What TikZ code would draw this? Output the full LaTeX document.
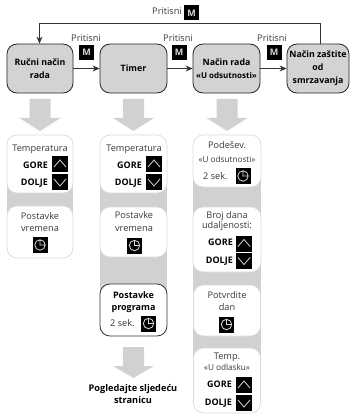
\documentclass[tikz,border=0pt]{standalone}
\usepackage{fontspec}
\setmainfont{Open Sans}
\usetikzlibrary{arrows.meta,shapes.arrows}
\definecolor{band}{HTML}{D0D1D1}
\definecolor{txt}{HTML}{3A3A3A}
\tikzset{
  x=1pt,y=-1pt,
  mode/.style={draw=black!85,line width=0.8pt,fill=band!95!white,rounded corners=10pt,minimum height=49pt,align=center,inner sep=0pt,text=black,font=\fontsize{8.8}{13}\selectfont\bfseries},
  panel/.style={draw=black!14,line width=0.7pt,fill=white,rounded corners=10pt,inner sep=0pt},
  strong/.style={draw=black!80,line width=0.8pt,fill=white,rounded corners=10pt,inner sep=0pt},
  lbl/.style={inner sep=0pt,text=txt,font=\fontsize{9.2}{11}\selectfont},
  slbl/.style={inner sep=0pt,text=txt,font=\fontsize{8.2}{10}\selectfont},
  blbl/.style={inner sep=0pt,text=black,align=center,font=\fontsize{9}{12}\selectfont\bfseries},
  keyb/.style={fill=black,minimum size=16pt,inner sep=0pt},
  mkey/.style={fill=black,minimum size=15pt,inner sep=0pt,text=white!85!black,font=\fontsize{9}{9}\selectfont\bfseries},
  flow/.style={draw=black!80,line width=0.8pt,-{Stealth[length=7pt,width=6pt]}},
  bigarrow/.style={fill=band,draw=none},
  pics/upkey/.style={code={\fill (-8,-8) rectangle (8,8);\draw[white!85!black,line width=0.8pt] (-6,3) -- (0,-4) -- (6,3);}},
  pics/downkey/.style={code={\fill (-8,-8) rectangle (8,8);\draw[white!85!black,line width=0.8pt] (-6,-3) -- (0,4) -- (6,-3);}},
  pics/clockkey/.style={code={\fill (-7.5,-8) rectangle (7.5,8);\draw[white!85!black,line width=0.8pt] (0,0) circle[radius=5.2] (0,-5.2) -- (0,0) -- (5.2,0);}},
}
\newcommand{\bigdown}[3]{\fill[bigarrow] (#1-10.5,#2) -- (#1+10.5,#2) -- (#1+10.5,#2+19) -- (#1+20.5,#2+19) -- (#1,#3) -- (#1-20.5,#2+19) -- (#1-10.5,#2+19) -- cycle;}
\begin{document}
\begin{tikzpicture}
\useasboundingbox (0,0) rectangle (353,414);
% grey bands
\fill[band] (7,180) rectangle (73,222);
\fill[band] (100,180) rectangle (167,310);
\fill[band] (193,175) rectangle (261,365);
% big arrows
\bigdown{40}{99}{131}
\bigdown{133.5}{99}{131}
\bigdown{227}{99}{131}
\bigdown{133.5}{347}{378}
% mode boxes
\node[mode,minimum width=66pt] (manual) at (40,68.5) {Ručni način\\rada};
\node[mode,minimum width=67pt] (timer) at (133.5,68.5) {Timer};
\node[mode,minimum width=67pt] (away) at (226.5,68.5) {Način rada\\{\fontsize{8}{13}\selectfont «U odsutnosti»}};
\node[mode,minimum width=62pt] (frost) at (318,68.5) {Način zaštite\\od\\smrzavanja};
% connectors
\coordinate (loopR) at (320,23);
\coordinate (loopL) at (39.5,23);
\draw[flow] (frost.north -| loopR) -- (loopR) -- (loopL) -- (manual.north -| loopL);
\draw[flow] (manual) -- (timer);
\draw[flow] (timer) -- (away);
\draw[flow] (away) -- (frost);
% press labels
\node[lbl] (p0) at (167,11.5) {Pritisni};
\node[mkey] (m0) at (191.5,13) {M};
\node[lbl] (p1) at (86,38) {Pritisni};
\node[mkey] (m1) at (86.5,52.5) {M};
\node[lbl] (p2) at (178,38) {Pritisni};
\node[mkey] (m2) at (179,52.5) {M};
\node[lbl] (p3) at (272,38) {Pritisni};
\node[mkey] (m3) at (274,52.5) {M};
% column 1
\node[panel,minimum width=66pt,minimum height=58pt] (a1) at (40,164) {};
\node[lbl] (a1t) at (40,149) {Temperatura};
\node[blbl,anchor=east] (a1g) at (48,165) {GORE};
\node[blbl,anchor=east] (a1d) at (48,183) {DOLJE};
\pic at (60,164) {upkey};
\pic at (60,182) {downkey};
\node[panel,minimum width=66pt,minimum height=52pt] (a2) at (40,232) {};
\node[lbl] (a2t) at (40,216) {Postavke};
\node[lbl] (a2u) at (40,229) {vremena};
\pic at (40,245) {clockkey};
% column 2
\node[panel,minimum width=67pt,minimum height=58pt] (b1) at (133.5,164) {};
\node[lbl] (b1t) at (134,149) {Temperatura};
\node[blbl,anchor=east] (b1g) at (142,165) {GORE};
\node[blbl,anchor=east] (b1d) at (142,183) {DOLJE};
\pic at (154,164) {upkey};
\pic at (154,182) {downkey};
\node[panel,minimum width=67pt,minimum height=50pt] (b2) at (133.5,232) {};
\node[lbl] (b2t) at (134,215) {Postavke};
\node[lbl] (b2u) at (134,229) {vremena};
\pic at (134.5,245.5) {clockkey};
\node[strong,minimum width=67pt,minimum height=52pt] (b3) at (133.5,310) {};
\node[blbl] (b3t) at (133.5,302) {Postavke\\programa};
\node[lbl,anchor=west] (b3s) at (110,323) {2 sek.};
\pic at (148.5,323.5) {clockkey};
\node[blbl,font=\fontsize{9.2}{12}\selectfont\bfseries] (next) at (133,394.5) {Pogledajte sljedeću\\stranicu};
% column 3
\node[panel,minimum width=68pt,minimum height=52pt] (c1) at (227,161) {};
\node[lbl] (c1t) at (227,145) {Podešev.};
\node[slbl] (c1u) at (227,159) {«U odsutnosti»};
\node[lbl,anchor=west] (c1s) at (203,176) {2 sek.};
\pic at (243,176) {clockkey};
\node[panel,minimum width=68pt,minimum height=65pt] (c2) at (227,239.5) {};
\node[lbl] (c2t) at (227,216) {Broj dana};
\node[lbl] (c2u) at (227,226) {udaljenosti:};
\node[blbl,anchor=east] (c2g) at (233,242) {GORE};
\node[blbl,anchor=east] (c2d) at (233,261) {DOLJE};
\pic at (244,243.5) {upkey};
\pic at (244,260.5) {downkey};
\node[panel,minimum width=67pt,minimum height=51pt] (c3) at (227,310.5) {};
\node[lbl] (c3t) at (227,295) {Potvrdite};
\node[lbl] (c3u) at (227,307) {dan};
\pic at (226.5,324.5) {clockkey};
\node[panel,minimum width=67pt,minimum height=65pt] (c4) at (227,380.5) {};
\node[lbl] (c4t) at (227,357) {Temp.};
\node[slbl] (c4u) at (227,367) {«U odlasku»};
\node[blbl,anchor=east] (c4g) at (232,384) {GORE};
\node[blbl,anchor=east] (c4d) at (232,403) {DOLJE};
\pic at (244,385) {upkey};
\pic at (244,403) {downkey};
\end{tikzpicture}
\end{document}
